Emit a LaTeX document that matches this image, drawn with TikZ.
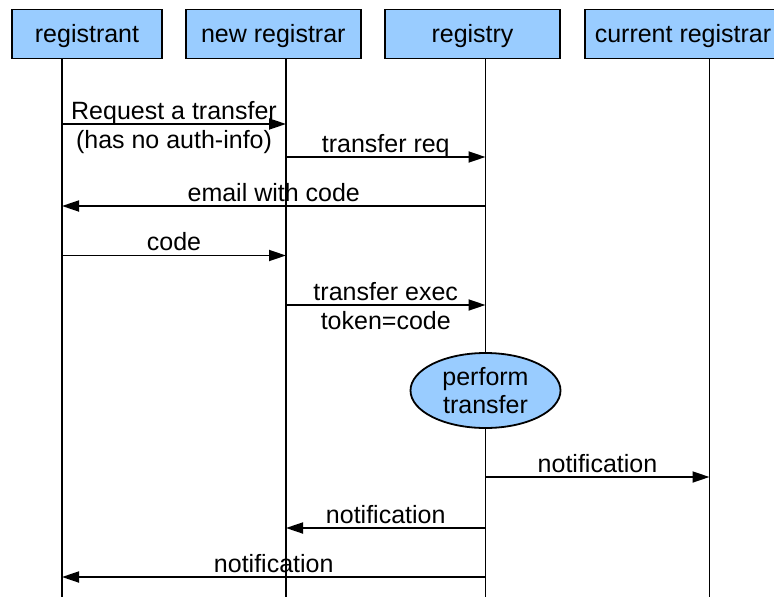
\documentclass[tikz,border=0pt]{standalone}
\usepackage{fontspec}
\setmainfont{Liberation Sans}
\usetikzlibrary{arrows.meta,shapes.geometric}
\definecolor{actorfill}{HTML}{99CCFF}
\begin{document}
\begin{tikzpicture}[x=1pt,y=-1pt,
  txt/.style={font=\fontsize{25}{28}\selectfont},
  actor/.style={txt, draw, line width=1.8pt, fill=actorfill, minimum height=49pt,
    inner sep=0pt, text height=22pt, text depth=5pt},
  action/.style={txt, draw, ellipse, line width=1.8pt, fill=actorfill,
    minimum width=150pt, minimum height=75pt, inner sep=0pt, align=center},
  lifeline/.style={line width=1.8pt},
  msg/.style={line width=1.8pt, -{Triangle[length=17pt,width=11pt]}},
  toplabel/.style={txt, midway, anchor=base, yshift=5pt, inner sep=0pt},
  sublabel/.style={txt, midway, anchor=base, yshift=-24pt, inner sep=0pt}]
  \useasboundingbox (0,0) rectangle (774,597);
  \clip (0,0) rectangle (774,597);

  % participants
  \node[actor, minimum width=150pt] (registrant) at (87,34) {registrant};
  \node[actor, minimum width=175pt] (newreg) at (273.3,34) {new registrar};
  \node[actor, minimum width=175pt] (registry) at (472.5,34) {registry};
  \node[actor, minimum width=196pt] (curreg) at (683,34) {current registrar};

  % lifeline positions
  \coordinate (L1) at (62,0);
  \coordinate (L2) at (286,0);
  \coordinate (L3) at (485.5,0);
  \coordinate (L4) at (709.5,0);
  \coordinate (bottom) at (0,600);

  \draw[lifeline] (L1 |- registrant.south) -- (L1 |- bottom);
  \draw[lifeline] (L2 |- newreg.south) -- (L2 |- bottom);
  \draw[lifeline] (L3 |- registry.south) -- (L3 |- bottom);
  \draw[lifeline] (L4 |- curreg.south) -- (L4 |- bottom);

  % internal step of the registry
  \node[action] (perform) at (485.5,390.5) {perform\\transfer};

  % messages
  \draw[msg] (L1 |- 0,124) -- node[toplabel]{Request a transfer}
    node[sublabel]{(has no auth-info)} (L2 |- 0,124);
  \draw[msg] (L2 |- 0,157) -- node[toplabel]{transfer req} (L3 |- 0,157);
  \draw[msg] (L3 |- 0,206) -- node[toplabel]{email with code} (L1 |- 0,206);
  \draw[msg] (L1 |- 0,255.5) -- node[toplabel]{code} (L2 |- 0,255.5);
  \draw[msg] (L2 |- 0,305) -- node[toplabel]{transfer exec}
    node[sublabel]{token=code} (L3 |- 0,305);
  \draw[msg] (L3 |- 0,477) -- node[toplabel]{notification} (L4 |- 0,477);
  \draw[msg] (L3 |- 0,528) -- node[toplabel]{notification} (L2 |- 0,528);
  \draw[msg] (L3 |- 0,577) -- node[toplabel]{notification} (L1 |- 0,577);
\end{tikzpicture}
\end{document}
